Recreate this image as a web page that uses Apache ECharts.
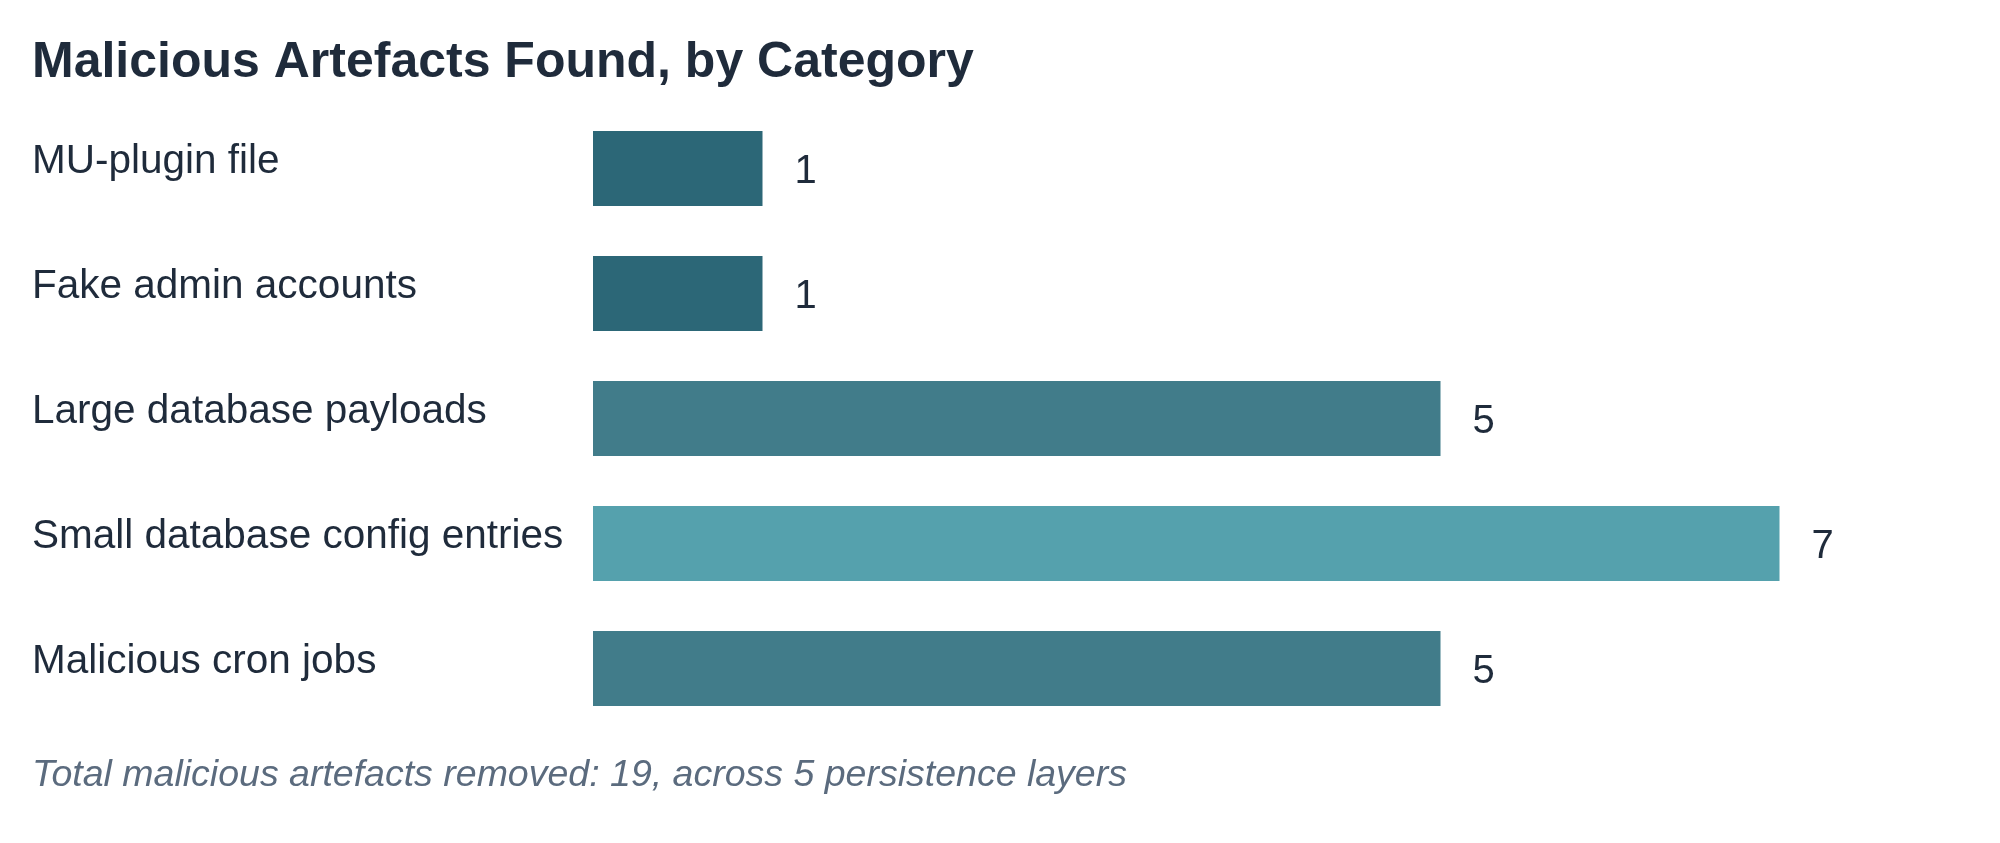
<!DOCTYPE html>
<html>
<head>
<meta charset="utf-8">
<title>Malicious Artefacts Found, by Category</title>
<script src="https://cdn.jsdelivr.net/npm/echarts@6/dist/echarts.min.js"></script>
<style>
	html, body { margin: 0; padding: 0; background: #ffffff; }
	#chart { width: 2000px; height: 843px; }
</style>
</head>
<body>
<div id="chart"></div>
<script>
	"use strict";

	/*---- data ----*/
	var categories = [
		'MU-plugin file',
		'Fake admin accounts',
		'Large database payloads',
		'Small database config entries',
		'Malicious cron jobs'
	];
	var counts = [1, 1, 5, 7, 5];
	var titleText = 'Malicious Artefacts Found, by Category';
	var noteText = 'Total malicious artefacts removed: 19, across 5 persistence layers';

	/*---- colours by count ----*/
	function barColor(v) {
		if (v >= 7) return '#55a1ad';
		if (v >= 5) return '#417c8a';
		return '#2c6777';
	}

	var fontFamily = '"Liberation Sans", Arial, Helvetica, sans-serif';
	var textColor = '#1f2b3b';

	var chart = echarts.init(document.getElementById('chart'));

	var option = {
		backgroundColor: '#ffffff',
		animation: false,
		title: {
			text: titleText,
			left: 32,
			top: 38,
			padding: 0,
			textStyle: {
				fontFamily: fontFamily,
				fontSize: 50,
				fontWeight: 'bold',
				color: textColor
			}
		},
		grid: {
			left: 593,
			right: 51,
			top: 106,
			bottom: 112,
			containLabel: false
		},
		xAxis: {
			type: 'value',
			min: 0,
			max: 8,
			show: false
		},
		yAxis: {
			type: 'category',
			data: categories,
			inverse: true,
			axisLine: { show: false },
			axisTick: { show: false },
			splitLine: { show: false },
			axisLabel: {
				align: 'left',
				verticalAlign: 'bottom',
				lineHeight: 13,
				margin: 561,
				fontFamily: fontFamily,
				fontSize: 40.5,
				color: textColor
			}
		},
		series: [{
			type: 'bar',
			barWidth: '60%',
			data: counts.map(function (v) {
				return { value: v, itemStyle: { color: barColor(v) } };
			}),
			label: {
				show: true,
				position: 'right',
				distance: 32,
				offset: [0, 3],
				fontFamily: fontFamily,
				fontSize: 40,
				color: textColor
			}
		}],
		graphic: [{
			type: 'text',
			left: 32,
			top: 757,
			style: {
				text: noteText,
				fontFamily: fontFamily,
				fontSize: 37.5,
				fontStyle: 'italic',
				fill: '#5b6b7e'
			}
		}]
	};

	chart.setOption(option);
	window.addEventListener('resize', function () {
		chart.resize();
	});
</script>
</body>
</html>
